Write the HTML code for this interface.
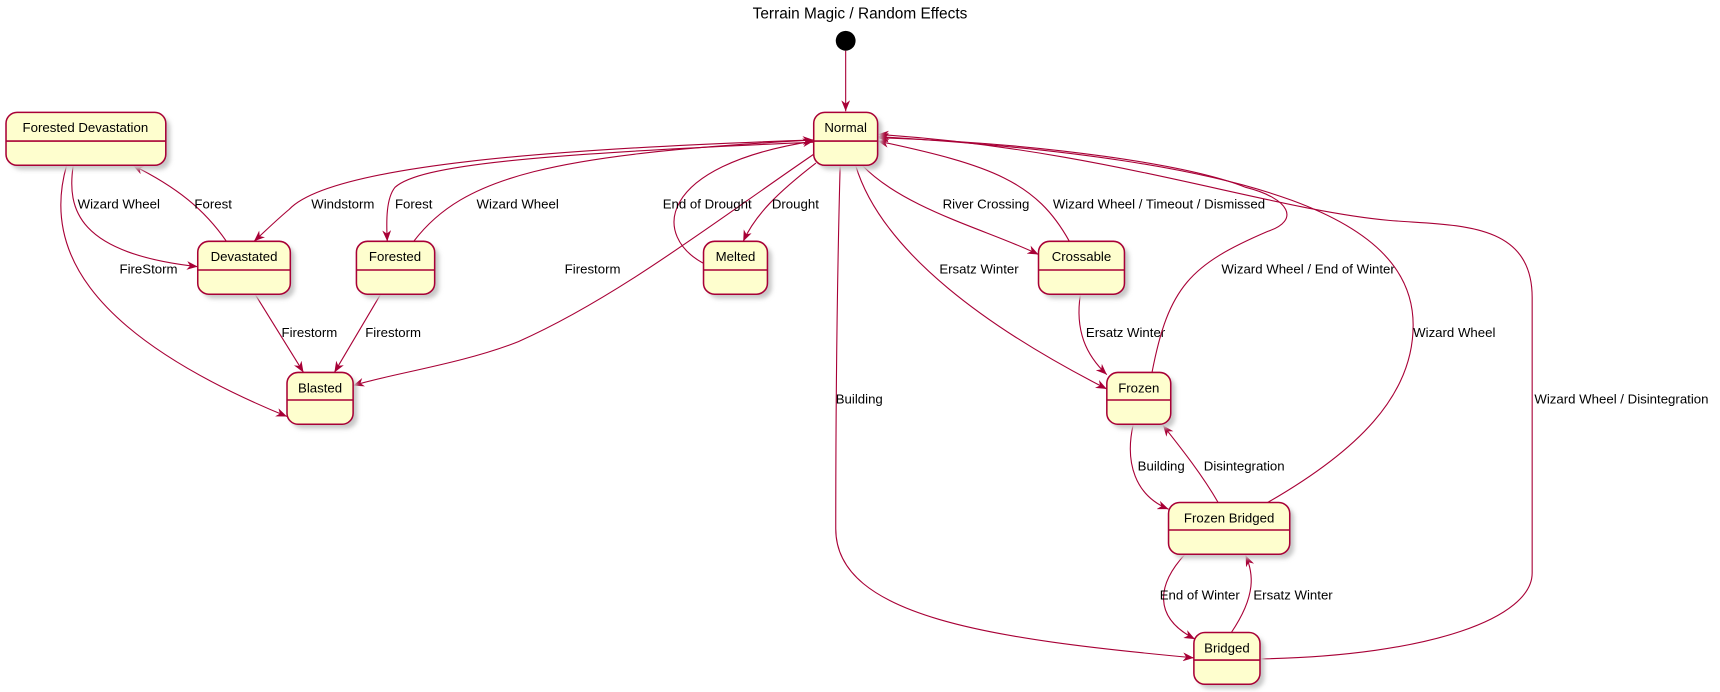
<!DOCTYPE html>
<html><head><meta charset="utf-8"><style>
html,body{margin:0;padding:0;background:#fff;width:1720px;height:692px;overflow:hidden}
svg{display:block}
text{font-family:"Liberation Sans",sans-serif;font-size:12px;fill:#000}
.e{fill:none;stroke:#A80036;stroke-width:1}
.s{fill:#FEFECE;stroke:#A80036;stroke-width:1.4}
.sh{fill:#c8c8c8;filter:url(#b)}
</style></head><body>
<svg width="1720" height="692" viewBox="0 0 1560 628" xmlns="http://www.w3.org/2000/svg">
<defs>
<marker id="a" viewBox="0 0 10 8" refX="10" refY="4" markerWidth="10" markerHeight="8" orient="auto" markerUnits="userSpaceOnUse">
<path d="M0,0 L10,4 L0,8 L3,4 z" fill="#A80036"/></marker>
<filter id="b"><feGaussianBlur stdDeviation="2"/></filter>
</defs>
<text x="780" y="17" text-anchor="middle" style="font-size:14px">Terrain Magic / Random Effects</text>
<circle cx="767" cy="37" r="9" fill="#000"/>
<path class="e" d="M767,46 L767,101" marker-end="url(#a)"/>

<!-- edges -->
<path class="e" d="M738,127 C500,135 300,150 262,190 C250,200 240,210 230,219" marker-end="url(#a)"/>
<text x="282" y="189">Windstorm</text>
<path class="e" d="M738,129 C480,140 380,150 358,170 C350,180 350,200 351,219" marker-end="url(#a)"/>
<text x="358" y="189">Forest</text>
<path class="e" d="M375,219 C420,160 500,140 738,127" marker-end="url(#a)"/>
<text x="432" y="189">Wizard Wheel</text>
<path class="e" d="M66,150 C60,190 70,230 179,242" marker-end="url(#a)"/>
<text x="70" y="189">Wizard Wheel</text>
<path class="e" d="M205,219 C185,190 160,170 120,150" marker-end="url(#a)"/>
<text x="176" y="189">Forest</text>
<path class="e" d="M60,150 C40,220 70,300 260,378" marker-end="url(#a)"/>
<text x="108" y="248">FireStorm</text>
<path class="e" d="M231,267 L275,338" marker-end="url(#a)"/>
<text x="255" y="306">Firestorm</text>
<path class="e" d="M345,267 L303,338" marker-end="url(#a)"/>
<text x="331" y="306">Firestorm</text>
<path class="e" d="M738,140 C650,200 560,270 470,310 C420,330 350,340 320,350" marker-end="url(#a)"/>
<text x="512" y="248">Firestorm</text>
<path class="e" d="M640,240 C590,215 595,150 738,128" marker-end="url(#a)"/>
<text x="601" y="189">End of Drought</text>
<path class="e" d="M740,148 C705,175 685,195 674,219" marker-end="url(#a)"/>
<text x="700" y="189">Drought</text>
<path class="e" d="M782,150 C820,190 900,210 942,231" marker-end="url(#a)"/>
<text x="855" y="189">River Crossing</text>
<path class="e" d="M970,219 C940,165 900,150 796,128" marker-end="url(#a)"/>
<text x="955" y="189">Wizard Wheel / Timeout / Dismissed</text>
<path class="e" d="M776,150 C800,230 900,300 1004,353" marker-end="url(#a)"/>
<text x="852" y="248">Ersatz Winter</text>
<path class="e" d="M980,267 C975,300 985,322 1004,340" marker-end="url(#a)"/>
<text x="985" y="306">Ersatz Winter</text>
<path class="e" d="M1045,338 C1060,260 1080,240 1150,210 C1180,200 1170,180 1130,170 C1080,150 950,130 796,125" marker-end="url(#a)"/>
<text x="1108" y="248">Wizard Wheel / End of Winter</text>
<path class="e" d="M1150,456 C1230,410 1282,360 1282,295 C1282,200 1150,145 796,124" marker-end="url(#a)"/>
<text x="1282" y="306">Wizard Wheel</text>
<path class="e" d="M1143,598 C1300,595 1390,560 1390,520 L1390,270 C1390,200 1320,205 1260,200 C1150,190 1000,135 796,122" marker-end="url(#a)"/>
<text x="1392" y="366">Wizard Wheel / Disintegration</text>
<path class="e" d="M762,150 C758,300 758,420 758,480 C758,560 900,580 1083,597" marker-end="url(#a)"/>
<text x="758" y="366">Building</text>
<path class="e" d="M1028,385 C1020,420 1030,450 1060,462" marker-end="url(#a)"/>
<text x="1032" y="427">Building</text>
<path class="e" d="M1105,456 C1090,430 1070,405 1055,386" marker-end="url(#a)"/>
<text x="1092" y="427">Disintegration</text>
<path class="e" d="M1075,503 C1050,530 1045,560 1084,580" marker-end="url(#a)"/>
<text x="1052" y="544">End of Winter</text>
<path class="e" d="M1117,574 C1140,540 1137,520 1130,504" marker-end="url(#a)"/>
<text x="1137" y="544">Ersatz Winter</text>

<!-- states -->
<g>
<rect class="sh" x="9" y="106" width="145" height="48" rx="10"/><rect class="s" x="5" y="102" width="145" height="48" rx="10"/><line class="e" x1="5" y1="128" x2="150" y2="128" style="stroke-width:1.4"/><text x="77" y="120" text-anchor="middle">Forested Devastation</text>
<rect class="sh" x="742" y="106" width="58" height="48" rx="10"/><rect class="s" x="738" y="102" width="58" height="48" rx="10"/><line class="e" x1="738" y1="128" x2="796" y2="128" style="stroke-width:1.4"/><text x="767" y="120" text-anchor="middle">Normal</text>
<rect class="sh" x="183" y="223" width="84" height="48" rx="10"/><rect class="s" x="179" y="219" width="84" height="48" rx="10"/><line class="e" x1="179" y1="245" x2="263" y2="245" style="stroke-width:1.4"/><text x="221" y="237" text-anchor="middle">Devastated</text>
<rect class="sh" x="327" y="223" width="71" height="48" rx="10"/><rect class="s" x="323" y="219" width="71" height="48" rx="10"/><line class="e" x1="323" y1="245" x2="394" y2="245" style="stroke-width:1.4"/><text x="358" y="237" text-anchor="middle">Forested</text>
<rect class="sh" x="642" y="223" width="58" height="48" rx="10"/><rect class="s" x="638" y="219" width="58" height="48" rx="10"/><line class="e" x1="638" y1="245" x2="696" y2="245" style="stroke-width:1.4"/><text x="667" y="237" text-anchor="middle">Melted</text>
<rect class="sh" x="946" y="223" width="78" height="48" rx="10"/><rect class="s" x="942" y="219" width="78" height="48" rx="10"/><line class="e" x1="942" y1="245" x2="1020" y2="245" style="stroke-width:1.4"/><text x="981" y="237" text-anchor="middle">Crossable</text>
<rect class="sh" x="264" y="342" width="60" height="47" rx="10"/><rect class="s" x="260" y="338" width="60" height="47" rx="10"/><line class="e" x1="260" y1="363" x2="320" y2="363" style="stroke-width:1.4"/><text x="290" y="356" text-anchor="middle">Blasted</text>
<rect class="sh" x="1008" y="342" width="58" height="47" rx="10"/><rect class="s" x="1004" y="338" width="58" height="47" rx="10"/><line class="e" x1="1004" y1="363" x2="1062" y2="363" style="stroke-width:1.4"/><text x="1033" y="356" text-anchor="middle">Frozen</text>
<rect class="sh" x="1064" y="460" width="110" height="47" rx="10"/><rect class="s" x="1060" y="456" width="110" height="47" rx="10"/><line class="e" x1="1060" y1="481" x2="1170" y2="481" style="stroke-width:1.4"/><text x="1115" y="474" text-anchor="middle">Frozen Bridged</text>
<rect class="sh" x="1087" y="578" width="60" height="47" rx="10"/><rect class="s" x="1083" y="574" width="60" height="47" rx="10"/><line class="e" x1="1083" y1="599" x2="1143" y2="599" style="stroke-width:1.4"/><text x="1113" y="592" text-anchor="middle">Bridged</text>
</g>
</svg>
</body></html>
